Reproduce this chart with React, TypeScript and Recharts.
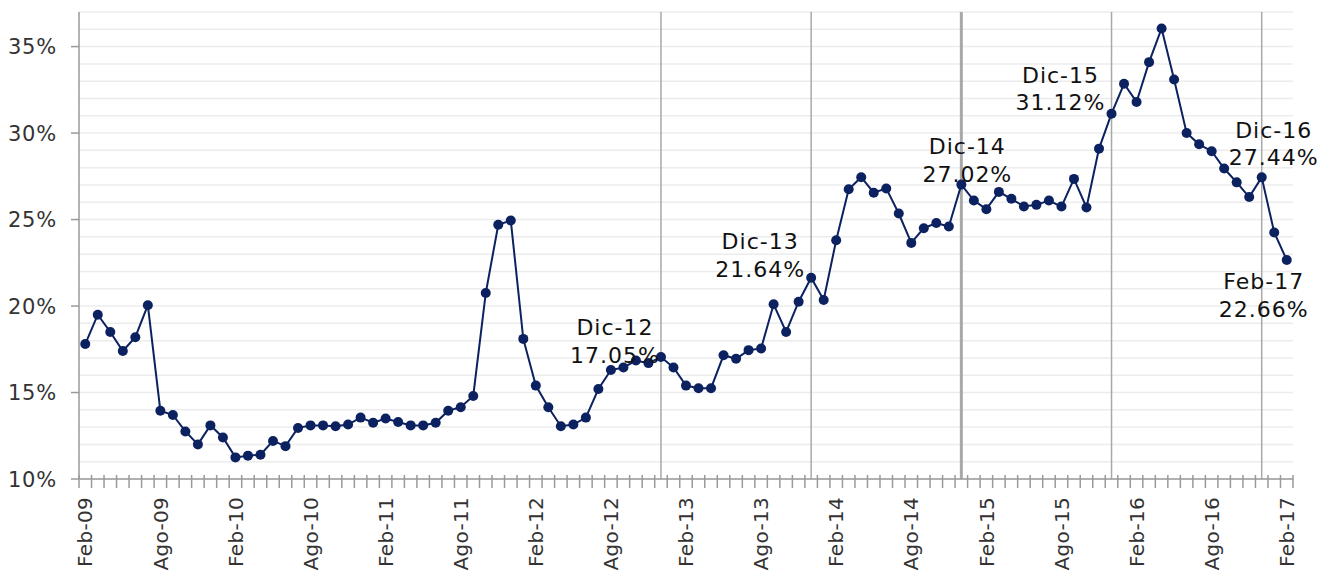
import React from 'react'
import {
  LineChart, Line, XAxis, YAxis, CartesianGrid, ReferenceLine,
} from 'recharts'

const MONTHS = ['Ene', 'Feb', 'Mar', 'Abr', 'May', 'Jun', 'Jul', 'Ago', 'Sep', 'Oct', 'Nov', 'Dic']

// Feb-09 .. Feb-17, one per month
const categories: string[] = []
for (let i = 0; i < 97; i++) {
  const m = (1 + i) % 12
  const yy = 9 + Math.floor((1 + i) / 12)
  categories.push(`${MONTHS[m]}-${String(yy).padStart(2, '0')}`)
}

const values = [
  17.8, 19.5, 18.5, 17.4, 18.2, 20.05, 13.95, 13.7, 12.75, 12.0, 13.1, 12.4, 11.25, 11.35, 11.4, 12.2, 11.9, 12.95, 13.1, 13.1,
  13.05, 13.15, 13.55, 13.25, 13.5, 13.3, 13.1, 13.1, 13.25, 13.95, 14.15, 14.8, 20.75, 24.7, 24.95, 18.1, 15.4, 14.15, 13.05, 13.15,
  13.55, 15.2, 16.3, 16.45, 16.85, 16.7, 17.05,
  16.45, 15.4, 15.25, 15.25, 17.15, 16.95, 17.45, 17.55, 20.1, 18.5, 20.25, 21.64, 20.35, 23.8, 26.75, 27.45, 26.55, 26.8, 25.35,
  23.65, 24.5, 24.8, 24.6, 27.02, 26.1, 25.6, 26.6,
  26.2, 25.75, 25.85, 26.1, 25.75, 27.35, 25.7, 29.1, 31.12, 32.85, 31.8, 34.1, 36.05, 33.1, 30.0, 29.35, 28.95, 27.95, 27.15,
  26.3, 27.44, 24.25, 22.66,
]

const yTicks = [10, 11, 12, 13, 14, 15, 16, 17, 18, 19, 20, 21, 22, 23, 24, 25, 26, 27, 28, 29, 30, 31, 32, 33, 34, 35, 36, 37]
const refLines = ['Dic-12', 'Dic-13', 'Dic-14', 'Dic-15', 'Dic-16']
const annotated = ['Dic-12', 'Dic-13', 'Dic-14', 'Dic-15', 'Dic-16', 'Feb-17']

const data = categories.map((month, i) => ({ month, value: values[i] }))

const W = 1319
const H = 572
const M = { top: 12, right: 26, bottom: 0, left: 0 }
const Y_W = 79
const X_H = 93
const BAND = (W - M.left - M.right - Y_W) / categories.length

const NAVY = '#0c2160'
const FONT = '"DejaVu Sans", sans-serif'

// label offsets from the point, [dx, dy line1, dy line2]
const labelOffsets: Record<string, [number, number, number]> = {
  'Dic-12': [-46, -30, -2],
  'Dic-13': [-51, -36, -8],
  'Dic-14': [6, -38, -10],
  'Dic-15': [-51, -38, -11],
  'Dic-16': [12, -47, -20],
  'Feb-17': [-23, 21, 49],
}

const XTick = (props: any) => {
  const { x, y, payload } = props
  const i = payload.index
  const left = x - BAND / 2
  return (
    <g>
      <line x1={left} x2={left} y1={y - 4} y2={y + 9} stroke="#9a9a9a" strokeWidth={1.5} />
      {i === categories.length - 1 && (
        <line x1={x + BAND / 2} x2={x + BAND / 2} y1={y - 4} y2={y + 9} stroke="#9a9a9a" strokeWidth={1.5} />
      )}
      {i % 6 === 0 && (
        <text
          x={x} y={y + 18} dy="0.36em" transform={`rotate(-90 ${x} ${y + 18})`}
          textAnchor="end" fontSize={20} fontFamily={FONT} fill="#333" letterSpacing={0.3}
        >
          {payload.value}
        </text>
      )}
    </g>
  )
}

const YTick = (props: any) => {
  const { x, y, payload } = props
  if (payload.value % 5 !== 0) return <g />
  return (
    <g>
      <line x1={x - 8} x2={x} y1={y} y2={y} stroke="#9a9a9a" strokeWidth={1.5} />
      <text x={x - 22} y={y} dy="0.36em" textAnchor="end" fontSize={21} fontFamily={FONT} fill="#333" letterSpacing={0.8}>
        {`${payload.value}%`}
      </text>
    </g>
  )
}

const renderLabel = (props: any) => {
  const { x, y, index } = props
  const cat = categories[index]
  if (!annotated.includes(cat)) return null
  const [dx, d1, d2] = labelOffsets[cat]
  return (
    <g key={`lbl-${index}`} fontSize={22} fontFamily={FONT} fill="#111" letterSpacing={1}>
      <text x={x + dx} y={y + d1} textAnchor="middle" dominantBaseline="central">{cat}</text>
      <text x={x + dx} y={y + d2} textAnchor="middle" dominantBaseline="central">{`${values[index].toFixed(2)}%`}</text>
    </g>
  )
}

export default function App() {
  return (
    <div style={{ position: 'absolute', left: 0, top: 0, background: '#fff' }}>
      <LineChart width={W} height={H} data={data} margin={M}>
        <CartesianGrid vertical={false} stroke="#ececec" strokeWidth={1.5} />
        <XAxis
          dataKey="month" interval={0} height={X_H} tick={<XTick />} tickLine={false}
          tickSize={0} tickMargin={0} axisLine={{ stroke: '#9a9a9a', strokeWidth: 1.5 }}
          padding={{ left: BAND / 2, right: BAND / 2 }}
        />
        <YAxis
          type="number" domain={[10, 37]} ticks={yTicks} interval={0} width={Y_W} tick={<YTick />}
          tickLine={false} tickSize={0} tickMargin={0} axisLine={{ stroke: '#9a9a9a', strokeWidth: 1.5 }}
          allowDataOverflow
        />
        {refLines.map((c) => (
          <ReferenceLine key={c} x={c} stroke="#a8a8a8" strokeWidth={c === 'Dic-14' ? 3 : 1.5} />
        ))}
        <Line
          type="linear" dataKey="value" stroke={NAVY} strokeWidth={2}
          dot={{ r: 5, fill: NAVY, stroke: NAVY, strokeWidth: 0 }}
          activeDot={false} isAnimationActive={false} label={renderLabel}
        />
      </LineChart>
    </div>
  )
}
